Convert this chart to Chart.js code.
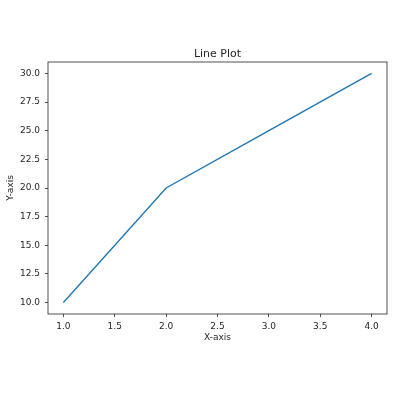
<!DOCTYPE html>
<html>
<head>
<meta charset="utf-8">
<script src="https://cdn.jsdelivr.net/npm/chart.js@4/dist/chart.umd.min.js"></script>
<style>
  html, body { margin: 0; padding: 0; background: #fff; }
  #wrap { width: 400px; height: 400px; }
</style>
</head>
<body>
<div id="wrap"><canvas id="lineChart" width="400" height="400"></canvas></div>
<script>
// chart values
const xValues = [1, 2, 3, 4];
const yValues = [10, 20, 25, 30];
const xTicks = [1.0, 1.5, 2.0, 2.5, 3.0, 3.5, 4.0];
const yTicks = [10.0, 12.5, 15.0, 17.5, 20.0, 22.5, 25.0, 27.5, 30.0];

const FONT = 'DejaVu Sans';
const INK = '#262626';

// matplotlib style box around the plot + title over the axes
const framePlugin = {
    id: 'frame',
    afterDraw(chart) {
        const { ctx, chartArea: a } = chart;
        ctx.save();
        ctx.strokeStyle = INK;
        ctx.lineWidth = 0.8;
        ctx.strokeRect(a.left, a.top, a.right - a.left, a.bottom - a.top);
        ctx.fillStyle = INK;
        ctx.font = `11px "${FONT}"`;
        ctx.textAlign = 'center';
        ctx.textBaseline = 'alphabetic';
        ctx.fillText('Line Plot', (a.left + a.right) / 2, a.top - 5);
        ctx.restore();
    }
};

new Chart(document.getElementById('lineChart'), {
    type: 'line',
    data: {
        datasets: [{
            data: xValues.map((x, i) => ({ x: x, y: yValues[i] })),
            borderColor: '#1f77b4',
            borderWidth: 1.4,
            pointRadius: 0,
            tension: 0,
            fill: false
        }]
    },
    options: {
        responsive: false,
        animation: false,
        layout: { padding: { left: 0, right: 13, top: 62, bottom: 0 } },
        plugins: { legend: { display: false }, tooltip: { enabled: false } },
        scales: {
            x: {
                type: 'linear',
                min: 0.85, max: 4.15,
                afterBuildTicks: s => { s.ticks = xTicks.map(v => ({ value: v })); },
                afterFit: s => { s.height = 86; },
                border: { display: false },
                grid: { drawOnChartArea: false, tickLength: 3, tickColor: INK, tickWidth: 0.8 },
                ticks: {
                    color: INK, padding: 4, maxRotation: 0, autoSkip: false,
                    font: { family: FONT, size: 9 },
                    callback: v => Number(v).toFixed(1)
                },
                title: {
                    display: true, text: 'X-axis', color: INK,
                    font: { family: FONT, size: 9 },
                    padding: { top: 0, bottom: 57 }
                }
            },
            y: {
                type: 'linear',
                min: 9, max: 31,
                afterBuildTicks: s => { s.ticks = yTicks.map(v => ({ value: v })); },
                afterFit: s => { s.width = 48; },
                border: { display: false },
                grid: { drawOnChartArea: false, tickLength: 3, tickColor: INK, tickWidth: 0.8 },
                ticks: {
                    color: INK, padding: 5, autoSkip: false,
                    font: { family: FONT, size: 9 },
                    callback: v => Number(v).toFixed(1)
                },
                title: {
                    display: true, text: 'Y-axis', color: INK,
                    font: { family: FONT, size: 9 },
                    padding: { top: 5, bottom: 0 }
                }
            }
        }
    },
    plugins: [framePlugin]
});
</script>
</body>
</html>
